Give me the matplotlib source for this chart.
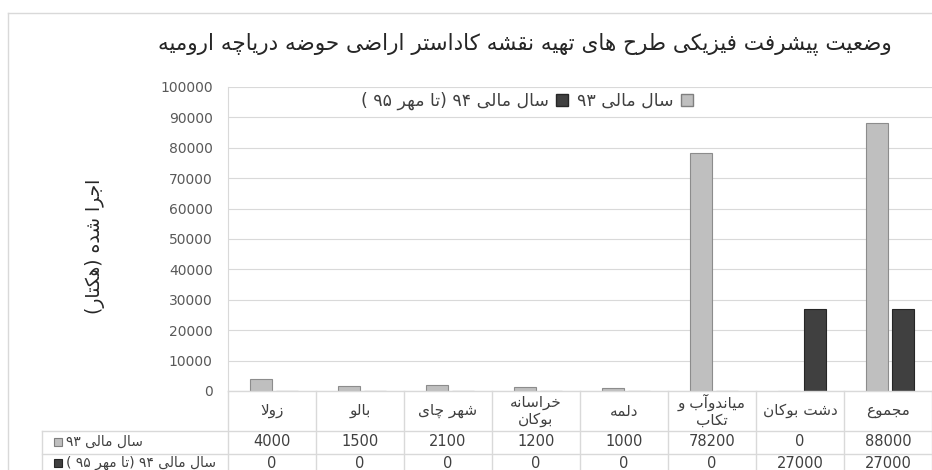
import matplotlib
matplotlib.use("Agg")
import matplotlib.pyplot as plt
from matplotlib.patches import Patch, Rectangle
from matplotlib.lines import Line2D
from matplotlib.transforms import blended_transform_factory

# chart data
categories = ['زولا', 'بالو', 'شهر چای', 'خراسانه\nبوکان', 'دلمه',
              'میاندوآب و\nتکاب', 'دشت بوکان', 'مجموع']
fy93 = [4000, 1500, 2100, 1200, 1000, 78200, 0, 88000]
fy94 = [0, 0, 0, 0, 0, 0, 27000, 27000]
series_names = ['سال مالی ۹۳', 'سال مالی ۹۴ (تا مهر ۹۵ )']
y_ticks = list(range(0, 100001, 10000))
title = 'وضعیت پیشرفت فیزیکی طرح های تهیه نقشه کاداستر اراضی حوضه دریاچه ارومیه'
y_label = 'اجرا شده (هکتار)'

# presentation forms: isolated, final, initial, medial
FORMS = {
    'ا': (0xFE8D, 0xFE8E), 'آ': (0xFE81, 0xFE82),
    'د': (0xFEA9, 0xFEAA), 'ذ': (0xFEAB, 0xFEAC),
    'ر': (0xFEAD, 0xFEAE), 'ز': (0xFEAF, 0xFEB0),
    'و': (0xFEED, 0xFEEE),
    'ب': (0xFE8F, 0xFE90, 0xFE91, 0xFE92), 'ت': (0xFE95, 0xFE96, 0xFE97, 0xFE98),
    'ج': (0xFE9D, 0xFE9E, 0xFE9F, 0xFEA0), 'ح': (0xFEA1, 0xFEA2, 0xFEA3, 0xFEA4),
    'خ': (0xFEA5, 0xFEA6, 0xFEA7, 0xFEA8), 'س': (0xFEB1, 0xFEB2, 0xFEB3, 0xFEB4),
    'ش': (0xFEB5, 0xFEB6, 0xFEB7, 0xFEB8), 'ض': (0xFEBD, 0xFEBE, 0xFEBF, 0xFEC0),
    'ط': (0xFEC1, 0xFEC2, 0xFEC3, 0xFEC4), 'ع': (0xFEC9, 0xFECA, 0xFECB, 0xFECC),
    'ف': (0xFED1, 0xFED2, 0xFED3, 0xFED4), 'ق': (0xFED5, 0xFED6, 0xFED7, 0xFED8),
    'ل': (0xFEDD, 0xFEDE, 0xFEDF, 0xFEE0), 'م': (0xFEE1, 0xFEE2, 0xFEE3, 0xFEE4),
    'ن': (0xFEE5, 0xFEE6, 0xFEE7, 0xFEE8), 'ه': (0xFEE9, 0xFEEA, 0xFEEB, 0xFEEC),
    'ی': (0xFBFC, 0xFBFD, 0xFBFE, 0xFBFF), 'پ': (0xFB56, 0xFB57, 0xFB58, 0xFB59),
    'چ': (0xFB7A, 0xFB7B, 0xFB7C, 0xFB7D), 'ک': (0xFB8E, 0xFB8F, 0xFB90, 0xFB91),
    'گ': (0xFB92, 0xFB93, 0xFB94, 0xFB95),
}
LAM_ALEF = {'ا': (0xFEFB, 0xFEFC), 'آ': (0xFEF5, 0xFEF6)}
DIGITS = set('0123456789۰۱۲۳۴۵۶۷۸۹')
MIRROR = {'(': ')', ')': '('}


def joins_next(c):
    return c in FORMS and len(FORMS[c]) == 4


def shape(text):
    out = []
    i, n = 0, len(text)
    while i < n:
        c = text[i]
        if c not in FORMS:
            out.append(c)
            i += 1
            continue
        prev = text[i - 1] if i > 0 else ''
        jp = joins_next(prev)
        if c == 'ل' and i + 1 < n and text[i + 1] in LAM_ALEF:
            iso, fin = LAM_ALEF[text[i + 1]]
            out.append(chr(fin if jp else iso))
            i += 2
            continue
        nxt = text[i + 1] if i + 1 < n else ''
        jn = joins_next(c) and nxt in FORMS
        f = FORMS[c]
        if jp and jn:
            g = f[3]
        elif jp:
            g = f[1]
        elif jn:
            g = f[2]
        else:
            g = f[0]
        out.append(chr(g))
        i += 1
    return ''.join(out)


def rtl_line(text):
    s = shape(text)[::-1]
    out, run = [], []
    for c in s:
        if c in DIGITS:
            run.append(c)
        else:
            out.extend(reversed(run))
            run = []
            out.append(MIRROR.get(c, c))
    out.extend(reversed(run))
    return ''.join(out)


def rtl(text):
    return '\n'.join(rtl_line(l) for l in text.split('\n'))


plt.rcParams['font.family'] = ['DejaVu Sans']

W, H = 932, 470
fig = plt.figure(figsize=(W / 100, H / 100), dpi=100)


def fx(px):
    return px / W


def fy(py):
    return 1 - py / H


LIGHT = '#bfbfbf'
DARK = '#404040'
GRID = '#d9d9d9'
TXT = '#404040'

ax = fig.add_axes([fx(228), fy(391), fx(932) - fx(228), fy(87) - fy(391)])
x = list(range(len(categories)))
ax.bar([i - 0.12 for i in x], fy93, width=0.25, color=LIGHT,
       edgecolor='#8c8c8c', linewidth=0.8, zorder=3)
ax.bar([i + 0.175 for i in x], fy94, width=0.25, color=DARK,
       edgecolor='#262626', linewidth=0.8, zorder=3)
ax.set_xlim(-0.5, len(categories) - 0.5)
ax.set_ylim(0, 100000)
ax.set_yticks(y_ticks)
ax.set_yticklabels([str(v) for v in y_ticks])
ax.set_xticks([])
ax.tick_params(axis='y', length=0, pad=11, labelsize=10, labelcolor='#595959')
ax.grid(axis='y', color=GRID, linewidth=0.8, zorder=0)
for side in ['top', 'right', 'bottom']:
    ax.spines[side].set_visible(False)
ax.spines['left'].set_color(GRID)

# outer frame
fig.add_artist(Line2D([fx(8), fx(8)], [fy(13), 0], color=GRID, lw=1))
fig.add_artist(Line2D([fx(8), 1], [fy(13), fy(13)], color=GRID, lw=1))

fig.text(fx(525), fy(44), rtl(title), ha='center', va='center',
         fontsize=15.5, color='#262626')
fig.text(fx(95), fy(246), rtl(y_label), ha='center', va='center',
         rotation=90, fontsize=13.5, color='#262626')

handles = [Patch(facecolor=DARK, edgecolor='#262626', label=rtl(series_names[1])),
           Patch(facecolor=LIGHT, edgecolor='#7f7f7f', label=rtl(series_names[0]))]
fig.legend(handles=handles, loc='center', bbox_to_anchor=(fx(527), fy(101)),
           ncol=2, frameon=False, markerfirst=False, fontsize=12.5,
           handlelength=0.7, handleheight=0.7, handletextpad=0.4,
           columnspacing=0.5, labelcolor=TXT)

# data table under the axis
tr = blended_transform_factory(ax.transData, fig.transFigure)
n = len(categories)
for k in range(n + 1):
    fig.add_artist(Line2D([k - 0.5, k - 0.5], [fy(391), 0], transform=tr,
                          color=GRID, lw=1))
fig.add_artist(Line2D([fx(228), 1], [fy(391), fy(391)], color=GRID, lw=1))
for yy in (431, 454):
    fig.add_artist(Line2D([fx(42), 1], [fy(yy), fy(yy)], color=GRID, lw=1))
fig.add_artist(Line2D([fx(42), fx(42)], [fy(431), 0], color=GRID, lw=1))

for i, name in enumerate(categories):
    fig.text(i, fy(411), rtl(name), transform=tr, ha='center', va='center',
             fontsize=11, color=TXT, linespacing=1.15)
    fig.text(i, fy(442), str(fy93[i]), transform=tr, ha='center', va='center',
             fontsize=10.5, color=TXT)
    fig.text(i, fy(463), str(fy94[i]), transform=tr, ha='center', va='center',
             fontsize=10.5, color=TXT)

for yy, name, fc, ec in ((442, series_names[0], LIGHT, '#7f7f7f'),
                          (463, series_names[1], DARK, '#262626')):
    fig.add_artist(Rectangle((fx(54), fy(yy + 4)), fx(8), fy(0) - fy(8),
                             facecolor=fc, edgecolor=ec, lw=0.8))
    fig.text(fx(66), fy(yy), rtl(name), ha='left', va='center',
             fontsize=10, color=TXT)

fig.savefig('out.png', dpi=100)
